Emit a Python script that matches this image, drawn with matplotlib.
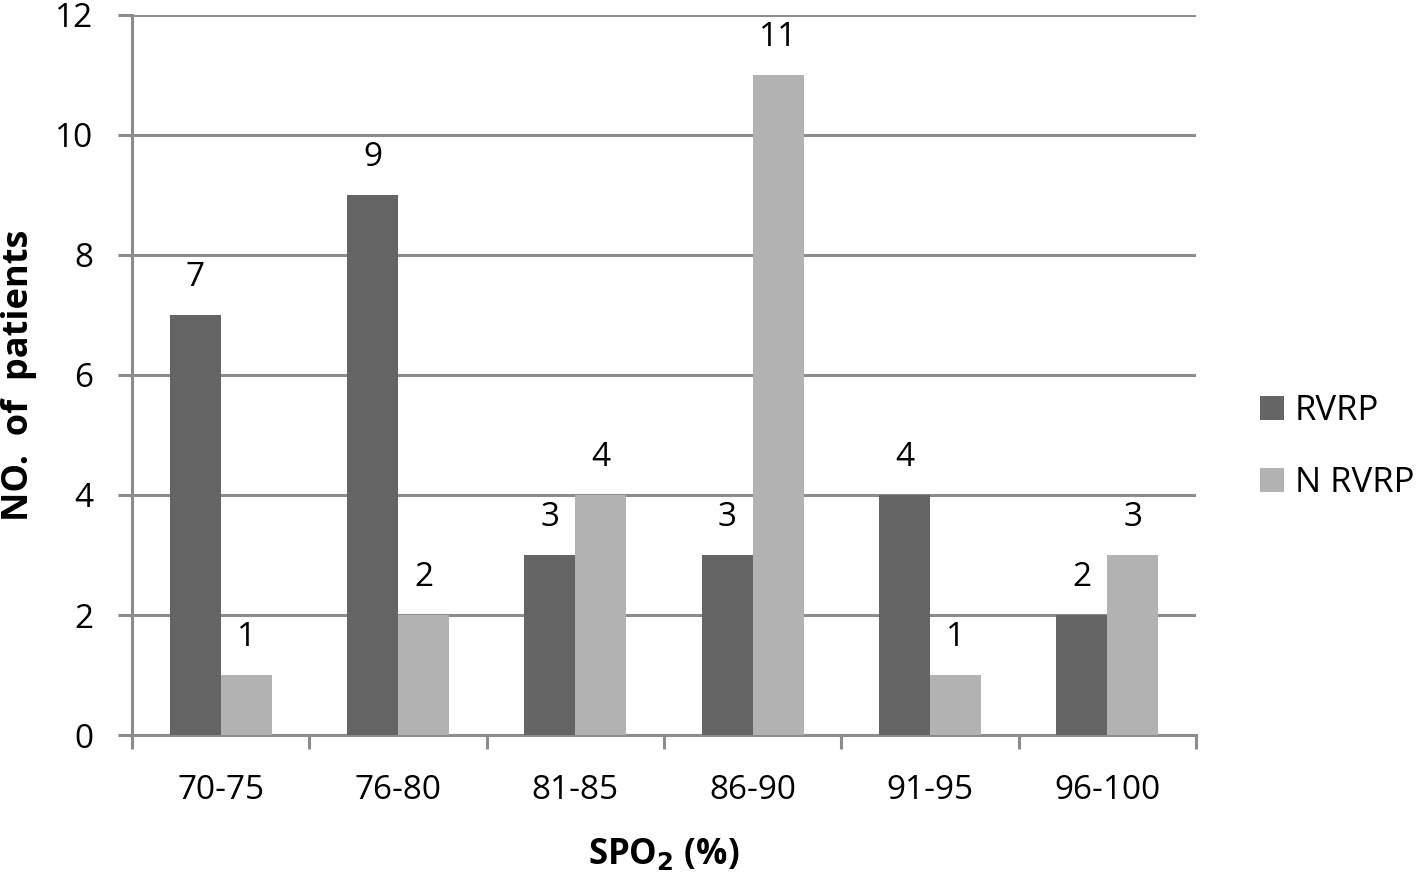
import matplotlib
matplotlib.use("Agg")
import matplotlib.pyplot as plt
import numpy as np

categories = ["70-75", "76-80", "81-85", "86-90", "91-95", "96-100"]
rvrp = [7, 9, 3, 3, 4, 2]
nrvrp = [1, 2, 4, 11, 1, 3]
series_names = ["RVRP", "N RVRP"]
yticks = [0, 2, 4, 6, 8, 10, 12]

plt.rcParams['font.family'] = ['Open Sans', 'DejaVu Sans']

fig = plt.figure(figsize=(14.18, 8.74), dpi=100)
ax = fig.add_axes([0.0931, 0.159, 0.7503, 0.824])

x = np.arange(len(categories))
w = 0.287
dark = "#646464"
light = "#b2b2b2"
b1 = ax.bar(x - w/2, rvrp, w, color=dark, label=series_names[0], zorder=3)
b2 = ax.bar(x + w/2, nrvrp, w, color=light, label=series_names[1], zorder=3)

for bars in (b1, b2):
    for rect in bars:
        h = rect.get_height()
        ax.annotate(f"{int(h)}", (rect.get_x() + rect.get_width()/2, h),
                    xytext=(0, 21), textcoords="offset points",
                    ha="center", va="baseline", fontsize=24, color="black")

ax.set_xlim(-0.5, len(categories) - 0.5)
ax.set_ylim(0, 12)
ax.set_yticks(yticks)
ax.set_yticklabels([str(t) for t in yticks], fontsize=24)
ax.yaxis.grid(True, color="#8c8c8c", linewidth=2.2, zorder=0)
ax.set_axisbelow(True)

ax.set_xticks(np.arange(-0.5, len(categories), 1.0))
ax.set_xticklabels([])
ax.set_xticks(x, minor=True)
ax.set_xticklabels(categories, minor=True, fontsize=24)
ax.tick_params(axis="x", which="minor", length=0, pad=28)
ax.tick_params(axis="x", which="major", length=10, width=2.2, color="#8c8c8c", direction="out")
ax.tick_params(axis="y", length=10, width=2.2, color="#8c8c8c", direction="out", pad=18)

for s in ["top", "right"]:
    ax.spines[s].set_visible(False)
for s in ["left", "bottom"]:
    ax.spines[s].set_color("#8c8c8c")
    ax.spines[s].set_linewidth(2.2)

ax.set_xlabel("SPO$_\\mathbf{2}$ (%)", fontsize=25, fontweight="bold", labelpad=22)
ax.set_ylabel("NO.  of  patients", fontsize=26, fontweight="bold")
ax.yaxis.set_label_coords(-0.089, 0.5)

leg = ax.legend(loc="center left", bbox_to_anchor=(1.06, 0.4), frameon=False,
                fontsize=25, handlelength=0.69, handleheight=0.69, labelspacing=1.1,
                handletextpad=0.32, borderpad=0, borderaxespad=0)

fig.savefig("out.png", dpi=100)
